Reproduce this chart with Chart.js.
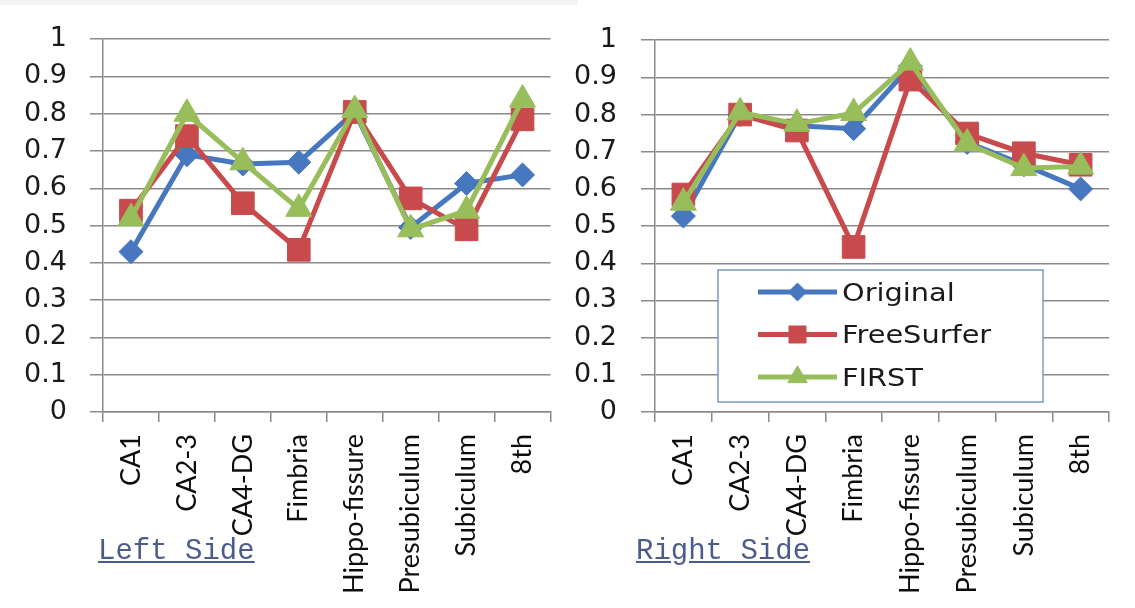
<!DOCTYPE html>
<html>
<head>
<meta charset="utf-8">
<script src="https://cdn.jsdelivr.net/npm/chart.js@4/dist/chart.umd.min.js"></script>
<style>
  html, body { margin: 0; padding: 0; background: #fff; }
  body { width: 1135px; height: 608px; position: relative; overflow: hidden; }
  .topband { position: absolute; left: 0; top: 0; width: 578px; height: 5px; background: #f3f3f3; }
  .panel { position: absolute; top: 0; height: 608px; }
  .panel canvas { display: block; }
  .side {
    position: absolute; top: 538px;
    font: 29px 'Liberation Mono', 'DejaVu Sans Mono', monospace;
    line-height: 28px; color: #4b5b8c;
    text-decoration: underline; white-space: pre;
  }
</style>
</head>
<body>
<div class="topband"></div>
<div class="panel" style="left:0;width:568px"><canvas id="leftChart" width="568" height="608"></canvas></div>
<div class="panel" style="left:568px;width:567px"><canvas id="rightChart" width="567" height="608"></canvas></div>
<div class="side" style="left:98px">Left Side</div>
<div class="side" style="left:636px">Right Side</div>

<script>
// Hippocampal subfields on the category axis
const categories = ['CA1', 'CA2-3', 'CA4-DG', 'Fimbria', 'Hippo-fissure', 'Presubiculum', 'Subiculum', '8th'];
const seriesNames = ['Original', 'FreeSurfer', 'FIRST'];
const yTickLabels = ['0', '0.1', '0.2', '0.3', '0.4', '0.5', '0.6', '0.7', '0.8', '0.9', '1'];

// Left hemisphere
const leftOriginal   = [0.43, 0.69, 0.665, 0.67, 0.805, 0.495, 0.613, 0.636];
const leftFreeSurfer = [0.54, 0.74, 0.56, 0.435, 0.805, 0.573, 0.49, 0.785];
const leftFirst      = [0.52, 0.80, 0.67, 0.545, 0.81, 0.49, 0.54, 0.838];

// Right hemisphere
const rightOriginal   = [0.527, 0.80, 0.77, 0.762, 0.93, 0.725, 0.665, 0.60];
const rightFreeSurfer = [0.585, 0.80, 0.757, 0.444, 0.894, 0.749, 0.696, 0.665];
const rightFirst      = [0.563, 0.806, 0.775, 0.804, 0.94, 0.722, 0.656, 0.66];

const seriesStyle = [
  { color: '#4677bf', pointStyle: 'rectRot',  radius: 12, order: 3 },
  { color: '#c94a4c', pointStyle: 'rect',     radius: 16, order: 2 },
  { color: '#98bd5b', pointStyle: 'triangle', radius: 15, order: 1 }
];

const AXIS_GREY = '#8a8a8a';

// Legend drawn inside the plot area, on a white box
const insetLegend = {
  id: 'insetLegend',
  afterDraw(chart, args, opts) {
    if (!opts || !opts.box) return;
    const ctx = chart.ctx;
    const b = opts.box;
    ctx.save();
    ctx.fillStyle = '#ffffff';
    ctx.fillRect(b.x, b.y, b.w, b.h);
    ctx.strokeStyle = '#7f98be';
    ctx.lineWidth = 1.5;
    ctx.strokeRect(b.x, b.y, b.w, b.h);
    chart.data.datasets.forEach((ds, i) => {
      const y = b.y + opts.rowTop + i * opts.rowGap;
      const x0 = b.x + opts.lineX0, x1 = b.x + opts.lineX1;
      ctx.strokeStyle = ds.borderColor;
      ctx.lineWidth = ds.borderWidth;
      ctx.beginPath();
      ctx.moveTo(x0, y);
      ctx.lineTo(x1, y);
      ctx.stroke();
      ctx.fillStyle = ds.pointBackgroundColor;
      ctx.strokeStyle = ds.pointBorderColor;
      ctx.lineWidth = 1;
      Chart.helpers.drawPoint(ctx, {
        pointStyle: ds.pointStyle, radius: ds.pointRadius * 0.75, rotation: 0, borderWidth: 1
      }, (x0 + x1) / 2, y);
      // legend lettering is set slightly wide
      ctx.save();
      ctx.translate(b.x + opts.textX, y + 8.5);
      ctx.scale(1.2, 1);
      ctx.fillStyle = '#1a1a1a';
      ctx.font = '24px "DejaVu Sans", sans-serif';
      ctx.textAlign = 'left';
      ctx.textBaseline = 'alphabetic';
      ctx.fillText(ds.label, 0, 0);
      ctx.restore();
    });
    ctx.restore();
  }
};

function buildDatasets(seriesValues) {
  return seriesValues.map((values, i) => ({
    label: seriesNames[i],
    data: values,
    borderColor: seriesStyle[i].color,
    backgroundColor: seriesStyle[i].color,
    borderWidth: 5,
    tension: 0,
    pointStyle: seriesStyle[i].pointStyle,
    pointRadius: seriesStyle[i].radius,
    pointHoverRadius: seriesStyle[i].radius,
    pointBackgroundColor: seriesStyle[i].color,
    pointBorderColor: seriesStyle[i].color,
    pointBorderWidth: 1,
    order: seriesStyle[i].order
  }));
}

function makeChart(canvasId, seriesValues, g, legendOpts) {
  return new Chart(document.getElementById(canvasId), {
    type: 'line',
    data: { labels: categories, datasets: buildDatasets(seriesValues) },
    plugins: [insetLegend],
    options: {
      responsive: false,
      animation: false,
      events: [],
      layout: { padding: { left: 0, top: g.top, right: g.right, bottom: 0 } },
      plugins: {
        legend: { display: false },
        tooltip: { enabled: false },
        insetLegend: legendOpts || {}
      },
      scales: {
        x: {
          offset: true,
          grid: { offset: true, drawOnChartArea: false, tickLength: 10, color: AXIS_GREY, lineWidth: 1.5 },
          border: { color: AXIS_GREY, width: 1.5 },
          ticks: {
            autoSkip: false, minRotation: 90, maxRotation: 90, padding: 12,
            color: '#0d0d0d',
            font: { family: "Lato, 'Liberation Sans', sans-serif", size: 27 }
          },
          afterFit: s => { s.height = g.xHeight; }
        },
        y: {
          min: 0, max: 1,
          grid: { color: AXIS_GREY, lineWidth: 1.5, tickLength: g.yTick },
          border: { color: AXIS_GREY, width: 1.5 },
          ticks: {
            stepSize: 0.1, padding: g.yPad, color: '#1a1a1a',
            font: { family: "'DejaVu Sans', sans-serif", size: 27 },
            callback: (v, i) => yTickLabels[i]
          },
          afterFit: s => { s.width = g.yWidth; }
        }
      }
    }
  });
}

makeChart('leftChart', [leftOriginal, leftFreeSurfer, leftFirst],
  { top: 35, right: 12, xHeight: 196, yWidth: 103, yTick: 13, yPad: 23 });

makeChart('rightChart', [rightOriginal, rightFreeSurfer, rightFirst],
  { top: 35, right: 26, xHeight: 196, yWidth: 87, yTick: 14, yPad: 24 },
  { box: { x: 150, y: 270, w: 325, h: 132 }, rowTop: 22, rowGap: 42.5, lineX0: 40, lineX1: 119, textX: 124 });
</script>
</body>
</html>
